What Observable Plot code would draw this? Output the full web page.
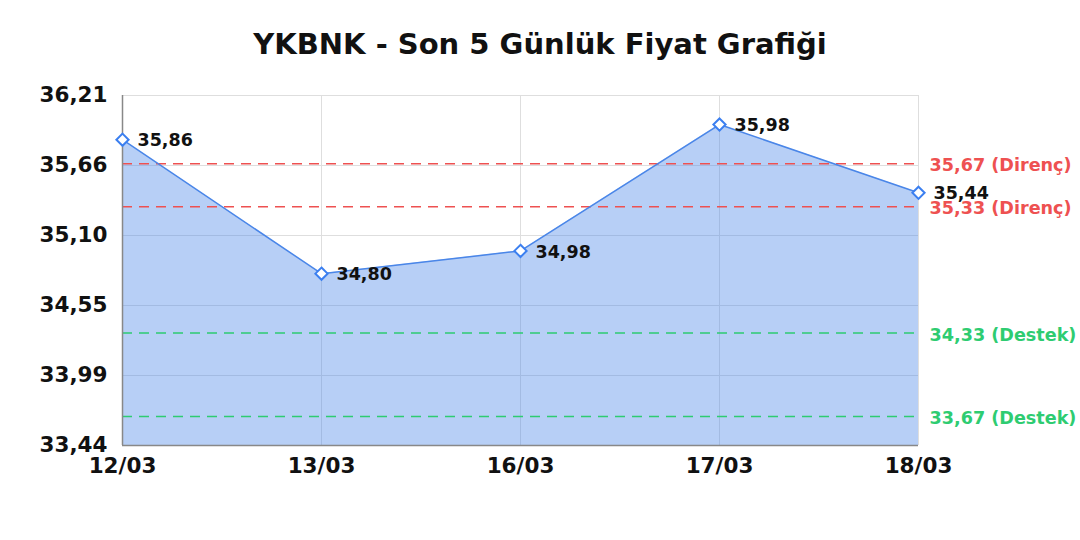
<!DOCTYPE html>
<html>
<head>
<meta charset="utf-8">
<script src="https://cdn.jsdelivr.net/npm/d3@7"></script>
<script src="https://cdn.jsdelivr.net/npm/@observablehq/plot@0.6"></script>
<style>
  html, body { margin: 0; padding: 0; background: #fff; }
  #title { height: 75px; box-sizing: border-box; padding-top: 30px; text-align: center;
           font-family: "DejaVu Sans"; font-weight: bold; font-size: 29px; line-height: 29px; color: #111; }
</style>
</head>
<body>
<div id="title">YKBNK - Son 5 Günlük Fiyat Grafiği</div>
<div id="chart"></div>
<script>
const dates = ["12/03", "13/03", "16/03", "17/03", "18/03"];
const prices = [35.86, 34.80, 34.98, 35.98, 35.44];
const yTicks = [33.44, 33.994, 34.548, 35.102, 35.656, 36.21];
const yTickLabels = ["33,44", "33,99", "34,55", "35,10", "35,66", "36,21"];
const resistance = [35.67, 35.33];
const support = [34.33, 33.67];
const yMin = 33.44, yMax = 36.21;

const fmt = v => v.toFixed(2).replace(".", ",");
const data = dates.map((d, i) => ({date: d, price: prices[i]}));
const levels = [
  ...resistance.map(v => ({v, label: fmt(v) + " (Direnç)", color: "#ee5151"})),
  ...support.map(v => ({v, label: fmt(v) + " (Destek)", color: "#2ecc71"}))
];
const blue = "#4a86e8";

const chart = Plot.plot({
  width: 1080,
  height: 430,
  marginTop: 20,
  marginBottom: 60,
  marginLeft: 122,
  marginRight: 162,
  style: {fontFamily: "DejaVu Sans", fontWeight: "bold", fontSize: "21.5px", color: "#111", background: "#fff"},
  x: {type: "point", domain: dates, padding: 0, label: null},
  y: {domain: [yMin, yMax], label: null},
  marks: [
    Plot.gridY(yTicks, {stroke: "#dedede", strokeOpacity: 1}),
    Plot.gridX(dates, {stroke: "#dedede", strokeOpacity: 1}),
    Plot.areaY(data, {x: "date", y1: yMin, y2: "price", fill: blue, fillOpacity: 0.4}),
    Plot.ruleY(levels, {y: "v", stroke: "color", strokeWidth: 1.5, strokeDasharray: "10,7"}),
    Plot.text(levels, {x: () => dates[dates.length - 1], y: "v", text: "label", fill: "color",
      textAnchor: "start", dx: 11, dy: 2, fontSize: 17.6}),
    Plot.ruleX([dates[0]], {stroke: "#888", strokeWidth: 1.5}),
    Plot.ruleY([yMin], {stroke: "#888", strokeWidth: 1.5}),
    Plot.lineY(data, {x: "date", y: "price", stroke: blue, strokeWidth: 1.5}),
    Plot.dot(data, {x: "date", y: "price", symbol: "diamond2", r: 5.5, stroke: "#3b7ff0", fill: "#fff", strokeWidth: 2}),
    Plot.text(data, {x: "date", y: "price", text: d => fmt(d.price), textAnchor: "start", dx: 15, dy: 1, fontSize: 17.5, fill: "#111"}),
    Plot.axisY(yTicks, {tickSize: 0, tickPadding: 15, tickFormat: (d, i) => yTickLabels[i], fontSize: 21.5}),
    Plot.axisX(dates, {tickSize: 0, tickPadding: 12, fontSize: 21.5})
  ]
});
document.getElementById("chart").appendChild(chart);
</script>
</body>
</html>
